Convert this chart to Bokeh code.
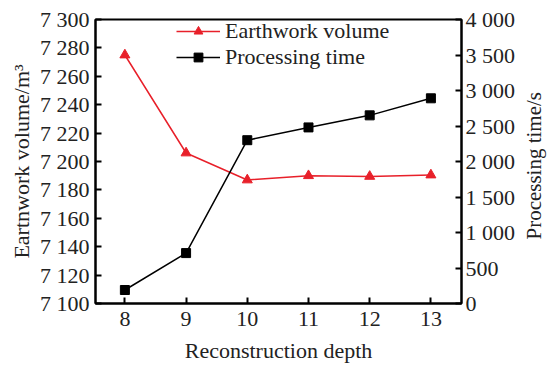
import math
from bokeh.plotting import figure
from bokeh.layouts import row
from bokeh.models import LinearAxis, Range1d, FixedTicker, Legend, LegendItem, Label
from bokeh.embed import file_html
from bokeh.resources import INLINE

depth = [8, 9, 10, 11, 12, 13]
earthwork = [7275, 7206, 7187, 7190, 7189.5, 7190.5]
proc_time = [190, 710, 2300, 2480, 2650, 2890]
left_ticks = list(range(7100, 7301, 20))
right_ticks = list(range(0, 4001, 500))
x_ticks = [8, 9, 10, 11, 12, 13]


def fmt(v):
    return f"{v:,}".replace(",", " ")


FONT = "Liberation Serif"
RED = "#e8202a"
TXT = "#222222"

p = figure(width=518, height=365, x_range=(7.52, 13.5), y_range=(7100, 7300),
           output_backend="svg", toolbar_location=None,
           min_border_left=95, min_border_right=54, min_border_top=19, min_border_bottom=60)
p.extra_y_ranges = {"time": Range1d(0, 4000)}
p.xgrid.visible = False
p.ygrid.visible = False
p.outline_line_color = "black"
p.outline_line_width = 2
p.background_fill_color = "white"

raxis = LinearAxis(y_range_name="time")
p.add_layout(raxis, "right")

for ax in [p.xaxis[0], p.yaxis[0], raxis]:
    ax.axis_line_width = 2
    ax.axis_line_color = "black"
    ax.major_tick_in = 6
    ax.major_tick_out = 0
    ax.major_tick_line_width = 2
    ax.minor_tick_line_color = None
    ax.major_label_text_font = FONT
    ax.major_label_text_font_size = "22px"
    ax.major_label_text_color = TXT
    ax.axis_label_text_font = FONT
    ax.axis_label_text_font_size = "22px"
    ax.axis_label_text_font_style = "normal"
    ax.axis_label_text_color = TXT

p.xaxis[0].ticker = FixedTicker(ticks=x_ticks)
p.xaxis[0].major_label_standoff = 8
p.xaxis[0].axis_label = "Reconstruction depth"
p.xaxis[0].axis_label_standoff = 9
p.yaxis[0].ticker = FixedTicker(ticks=left_ticks)
p.yaxis[0].major_label_overrides = {t: fmt(t) for t in left_ticks}
p.yaxis[0].major_label_standoff = 6
p.yaxis[0].axis_label = "Eartnwork volume/m³"
p.yaxis[0].axis_label_standoff = 3
raxis.ticker = FixedTicker(ticks=right_ticks)
raxis.major_label_overrides = {t: fmt(t) for t in right_ticks}
raxis.major_label_standoff = 4

r1l = p.line(depth, earthwork, line_color=RED, line_width=1.5)
r1s = p.scatter(depth, earthwork, marker="triangle", size=10, fill_color=RED, line_color=RED)
r2l = p.line(depth, proc_time, line_color="black", line_width=1.5, y_range_name="time")
r2s = p.scatter(depth, proc_time, marker="square", size=9, fill_color="black", line_color="black",
                y_range_name="time")

legend = Legend(items=[LegendItem(label="Earthwork volume", renderers=[r1l, r1s]),
                       LegendItem(label="Processing time", renderers=[r2l, r2s])],
                location=(81, 233), border_line_alpha=0, background_fill_alpha=0,
                label_text_font=FONT, label_text_font_size="22px", label_text_color=TXT,
                glyph_width=44, glyph_height=22, label_height=22, spacing=0, padding=0,
                label_standoff=5, margin=0)
p.add_layout(legend)

# narrow strip holding the right-hand axis title (reads bottom to top)
p2 = figure(width=29, height=365, x_range=(0, 1), y_range=(0, 1),
            output_backend="svg", toolbar_location=None,
            x_axis_type=None, y_axis_type=None, min_border=0)
p2.outline_line_color = None
p2.grid.visible = False
p2.add_layout(Label(x=0.55, y=0.485, text="Processing time/s", angle=math.pi / 2,
                    text_align="center", text_baseline="middle", text_font=FONT,
                    text_font_size="21px", text_color=TXT))

layout = row(p, p2, spacing=0)
open("out.html", "w").write(file_html(layout, INLINE))
